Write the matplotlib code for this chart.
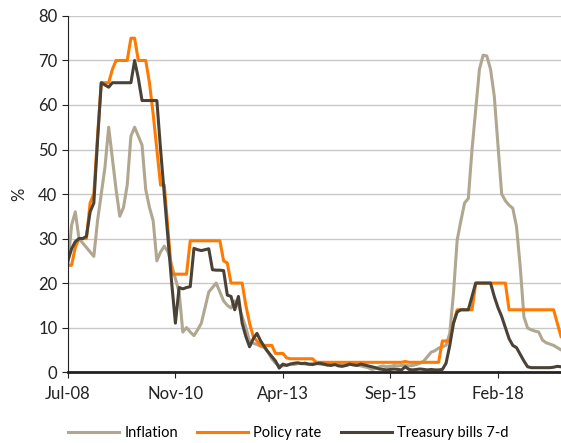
import numpy as np
import matplotlib.pyplot as plt

plt.rcParams['font.family'] = ['Lato', 'DejaVu Sans']

# monthly points, Jul-08 onwards
tick_labels = ["Jul-08", "Nov-10", "Apr-13", "Sep-15", "Feb-18"]
tick_pos = [0, 29, 58, 87, 116]

inflation = [
    24, 33, 36, 30, 29, 28, 27, 26, 34, 40,
    46, 55, 48, 41, 35, 37, 42, 53, 55, 53,
    51, 41, 37, 34, 25, 27, 28.3, 27, 24, 21,
    18, 9, 10, 9, 8.2, 9.5, 11, 14.5, 18, 19,
    20, 18, 16, 15, 14.4, 16, 15, 12.5, 10, 7,
    6.5, 6.2, 5.8, 5.5, 4.5, 3, 2, 1.5, 1.4, 1.6,
    1.8, 1.7, 1.9, 2.0, 1.8, 1.7, 1.9, 2.0, 1.8, 1.7,
    1.6, 1.8, 1.9, 1.7, 1.6, 1.5, 1.7, 1.8, 1.6, 1.4,
    1.2, 1.0, 0.6, 0.8, 1.2, 1.4, 1.2, 1.3, 1.5, 1.4,
    1.5, 1.6, 1.4, 1.5, 1.7, 2.0, 2.5, 3.5, 4.5, 4.8,
    5.4, 5.7, 6.0, 8.7, 17.7, 29.7, 34, 38, 39, 50,
    59, 68, 71.2, 71, 68, 62, 51, 40, 38.5, 37.5,
    36.8, 32.7, 23.7, 12.4, 9.9, 9.5, 9.2, 9, 7.2, 6.6,
    6.3, 6, 5.5, 5,
]

policy_rate = [
    24, 24, 28, 30, 30, 30, 38, 40, 53, 65,
    65, 65, 68, 70, 70, 70, 70, 75, 75, 70,
    70, 70, 65, 58, 50, 42, 42, 32, 22, 22,
    22, 22, 22, 29.5, 29.5, 29.5, 29.5, 29.5, 29.5, 29.5,
    29.5, 29.5, 25, 24.5, 20, 20, 20, 20, 15, 11,
    8, 7, 6, 6, 6, 6, 4.2, 4.2, 4.2, 3.2,
    3, 3, 3, 3, 3, 3, 3, 2.2, 2.2, 2.2,
    2.2, 2.2, 2.2, 2.2, 2.2, 2.2, 2.2, 2.2, 2.2, 2.2,
    2.2, 2.2, 2.2, 2.2, 2.2, 2.2, 2.2, 2.2, 2.2, 2.2,
    2.2, 2.4, 2.2, 2.2, 2.2, 2.2, 2.2, 2.2, 2.2, 2.2,
    2.2, 7, 7, 7, 11, 14, 14, 14, 14, 14,
    20, 20, 20, 20, 20, 20, 20, 20, 20, 14,
    14, 14, 14, 14, 14, 14, 14, 14, 14, 14,
    14, 14, 11, 8,
]

tbills = [
    25, 27.7, 29.3, 30, 30, 30.5, 36, 38, 52, 65,
    64.5, 64, 65, 65, 65, 65, 65, 65, 70, 66,
    61, 61, 61, 61, 61, 50, 40, 30, 20, 11,
    19, 18.7, 19, 19.2, 27.8, 27.5, 27.3, 27.5, 27.7, 23,
    22.9, 22.9, 22.8, 17.3, 17, 14, 17, 11, 8, 5.7,
    7.5, 8.7, 7, 5.7, 4.5, 3.5, 2.5, 0.9, 1.8, 1.5,
    1.8, 2.0, 2.1, 1.9, 2.0, 1.8, 1.7, 1.9, 2.0, 1.8,
    1.6, 1.5, 1.7, 1.4, 1.3, 1.5, 1.8, 1.6, 1.5, 1.8,
    1.6, 1.4, 1.2, 1.0, 0.7, 0.6, 0.5, 0.6, 0.7, 0.6,
    0.5, 1.2, 0.6, 0.5, 0.6, 0.7, 0.6, 0.5, 0.6, 0.5,
    0.5, 0.6, 2, 6, 11, 13.5, 14, 14, 14, 17,
    20, 20, 20, 20, 20, 17, 14.5, 12.5, 10, 7.5,
    6, 5.5, 4, 2.5, 1.2, 1.0, 1.0, 1.0, 1.0, 1.0,
    1.0, 1.1, 1.3, 1.2,
]

x = np.arange(len(inflation))

fig = plt.figure(figsize=(5.61, 4.43), dpi=100)
ax = fig.add_axes([0.121, 0.160, 0.879, 0.804])

ax.plot(x, inflation, color='#b1a790', lw=2.2, label='Inflation')
ax.plot(x, policy_rate, color='#ff7a00', lw=2.2, label='Policy rate')
ax.plot(x, tbills, color='#4b4237', lw=2.2, label='Treasury bills 7-d')

ax.set_xlim(0, len(x) - 1)
ax.set_ylim(0, 80)
ax.set_yticks(range(0, 81, 10))
ax.set_xticks(tick_pos)
ax.set_xticklabels(tick_labels)
ax.grid(axis='y', color='#c8c8c8', lw=1)
ax.set_axisbelow(True)

for s in ['top', 'right']:
    ax.spines[s].set_visible(False)
ax.spines['left'].set_color('#222222')
ax.spines['bottom'].set_color('#222222')
ax.spines['bottom'].set_linewidth(2)
ax.tick_params(axis='both', labelsize=12, colors='#222222', length=4, direction='out')
ax.tick_params(axis='x', pad=6)
ax.set_ylabel('%', fontsize=12, color='#222222', labelpad=8)

ax.legend(loc='center', bbox_to_anchor=(0.447, -0.171), ncol=3, frameon=False,
          fontsize=10.5, handlelength=3.5, columnspacing=1.3, handletextpad=0.35)

fig.savefig('out.png', dpi=100)
